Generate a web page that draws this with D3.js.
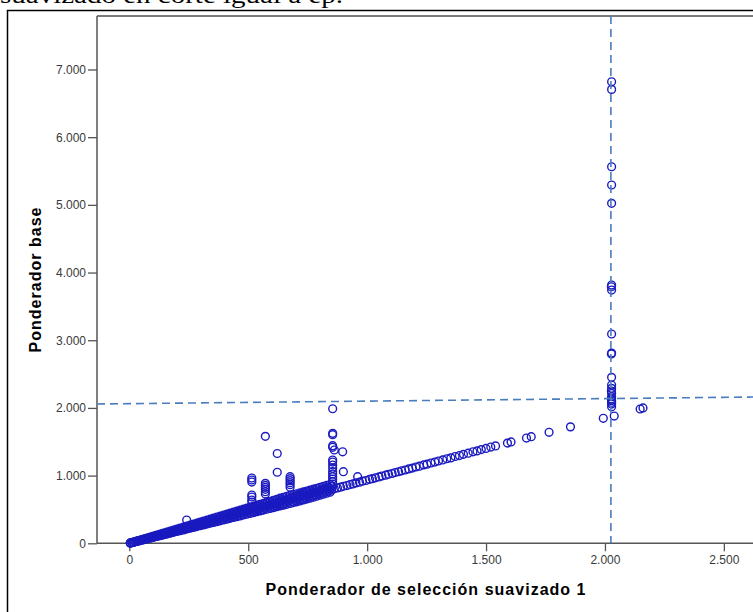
<!DOCTYPE html>
<html>
<head>
<meta charset="utf-8">
<script src="https://cdn.jsdelivr.net/npm/d3@7"></script>
<style>
  body { margin: 0; background: #fff; }
  svg { display: block; }
</style>
</head>
<body>
<svg id="chart" width="753" height="612"></svg>
<script>
// Smoothed selection weight (x) versus base weight (y).

// Dense bulk of cases: each smoothed value with a low, middle and high base weight
const bandSmoothed = [4, 18, 32, 46, 60, 74, 88, 102, 116, 130, 144, 158, 172, 186, 200, 214, 228, 242, 256, 270,
  284, 298, 312, 326, 340, 354, 368, 382, 396, 410, 424, 438, 452, 466, 480, 494, 508, 522, 536, 550,
  564, 578, 592, 606, 620, 634, 648, 662, 676, 690, 704, 718, 732, 746, 760, 774, 788, 802, 816, 830, 844];
const bandBaseLow = [3, 15, 28, 40, 52, 64, 76, 88, 101, 113, 125, 137, 150, 162, 174, 186, 198, 211, 223, 235,
  247, 259, 272, 284, 296, 308, 320, 332, 345, 357, 369, 381, 393, 405, 418, 430, 442, 454, 466, 479,
  491, 503, 515, 527, 540, 552, 564, 576, 589, 601, 613, 626, 640, 653, 667, 681, 696, 710, 725, 740, 755];
const bandBaseMid = [4, 17, 31, 44, 58, 71, 85, 98, 111, 125, 138, 152, 165, 179, 192, 205, 219, 232, 246, 259,
  273, 286, 300, 313, 326, 340, 353, 367, 380, 394, 407, 420, 434, 447, 461, 474, 488, 501, 515, 528,
  541, 555, 568, 582, 595, 609, 622, 636, 649, 662, 676, 689, 703, 716, 730, 743, 756, 770, 783, 797, 810];
const bandBaseHigh = [5, 19, 34, 48, 63, 78, 92, 107, 122, 137, 151, 166, 181, 195, 210, 225, 239, 254, 269, 284,
  298, 313, 328, 342, 357, 372, 386, 401, 416, 430, 445, 460, 475, 489, 504, 519, 533, 548, 563, 577,
  592, 607, 621, 636, 651, 666, 680, 695, 710, 720, 732, 745, 759, 772, 786, 800, 813, 827, 841, 855, 869];

// Second set of bulk cases, between the rows above
const bandSmoothedB = [11, 25, 39, 53, 67, 81, 95, 109, 123, 137, 151, 165, 179, 193, 207, 221, 235, 249, 263, 277,
  291, 305, 319, 333, 347, 361, 375, 389, 403, 417, 431, 445, 459, 473, 487, 501, 515, 529, 543, 557,
  571, 585, 599, 613, 627, 641, 655, 669, 683, 697, 711, 725, 739, 753, 767, 781, 795, 809, 823, 837, 851];
const bandBaseLowMid = [10, 23, 35, 48, 61, 73, 86, 99, 111, 124, 137, 149, 162, 175, 187, 200, 213, 225, 238, 251,
  263, 276, 289, 301, 314, 327, 339, 352, 365, 377, 390, 403, 415, 428, 441, 453, 466, 479, 491, 504,
  517, 529, 542, 555, 567, 580, 593, 605, 618, 631, 645, 659, 673, 687, 701, 715, 730, 744, 758, 773, 787];
const bandBaseMidHigh = [11, 25, 39, 53, 67, 81, 96, 110, 124, 138, 152, 166, 180, 194, 208, 222, 236, 250, 264, 278,
  292, 307, 321, 335, 349, 363, 377, 391, 405, 419, 433, 447, 461, 475, 489, 503, 518, 532, 546, 560,
  574, 588, 602, 616, 630, 644, 658, 672, 686, 700, 712, 724, 737, 750, 764, 777, 791, 804, 818, 832, 845];

// Thinner tail of the bulk
const tailSmoothed = [862, 875, 888, 900, 915, 928, 940, 953, 968, 980, 995, 1010, 1022, 1035, 1050, 1062, 1078, 1090,
  1105, 1118, 1132, 1145, 1160, 1175, 1190, 1205, 1220, 1238, 1252, 1268, 1285, 1300, 1318, 1335, 1352, 1370,
  1388, 1405, 1425, 1445, 1462, 1480, 1500, 1520, 1540, 1590, 1605, 1670, 1690, 1765, 1855, 1993, 2148, 2160];
const tailBase = [806, 818, 829, 843, 853, 868, 877, 892, 903, 918, 928, 945, 954, 968, 980, 994, 1006, 1020,
  1031, 1046, 1057, 1071, 1083, 1099, 1111, 1127, 1139, 1158, 1169, 1186, 1200, 1216, 1231, 1249, 1262, 1282,
  1296, 1314, 1331, 1352, 1365, 1384, 1401, 1422, 1438, 1480, 1497, 1555, 1575, 1640, 1720, 1847, 1984, 2000];

// Cases whose base weight sits well above the bulk
const highSmoothed = [241, 515, 515, 515, 515, 515, 515, 515, 572, 572, 572, 572, 572, 572, 572, 622, 622,
  676, 676, 676, 676, 676, 676, 855, 855, 855, 855, 855, 855, 855, 855, 855, 855, 855, 855, 855, 855, 855,
  862, 897, 900, 960];
const highBase = [344, 965, 935, 905, 713, 684, 640, 610, 1580, 886, 855, 825, 798, 762, 728, 1327, 1050,
  984, 955, 925, 895, 866, 827, 1988, 1625, 1605, 1442, 1418, 1230, 1200, 1157, 1108, 1058, 1024, 984, 950, 910,
  876, 1378, 1352, 1058, 984];

// Cases trimmed at the cut point
const cutSmoothed = [2028, 2028, 2028, 2028, 2028, 2028, 2027, 2028, 2028, 2028, 2027, 2028, 2028, 2028, 2027,
  2028, 2028, 2027, 2028, 2028, 2028, 2028, 2039];
const cutBase = [6818, 6706, 5563, 5293, 5022, 3815, 3790, 3741, 3092, 2810, 2797, 2452, 2338, 2289, 2250,
  2215, 2166, 2130, 2106, 2080, 2057, 2018, 1880];

// Reference lines
const cutPoint = 2025;
const refLineSmoothed = [-136, 2652];
const refLineBase = [2058, 2162];

// Axes
const xTicks = [0, 500, 1000, 1500, 2000, 2500];
const xTickLabels = ["0", "500", "1.000", "1.500", "2.000", "2.500"];
const yTicks = [0, 1000, 2000, 3000, 4000, 5000, 6000, 7000];
const yTickLabels = ["0", "1.000", "2.000", "3.000", "4.000", "5.000", "6.000", "7.000"];
const xTitle = "Ponderador de selección suavizado 1";
const yTitle = "Ponderador base";
const pageText = "suavizado en corte igual a ep.";

const svg = d3.select("#chart");
const W = 753, H = 612;
const plot = { left: 97, right: 760, top: 16, bottom: 543.3 };

svg.append("rect").attr("width", W).attr("height", H).attr("fill", "#fff");

// Line of body text above the figure
svg.append("text")
  .attr("x", 0).attr("y", 3)
  .attr("font-family", "'Liberation Serif', 'Times New Roman', serif")
  .attr("font-size", 24)
  .attr("textLength", 343).attr("lengthAdjust", "spacingAndGlyphs")
  .attr("fill", "#000")
  .text(pageText);

// Outer figure frame
svg.append("rect")
  .attr("x", 7.5).attr("y", 10.5).attr("width", 760).attr("height", 700)
  .attr("fill", "#fff").attr("stroke", "#000").attr("stroke-width", 1.5);

const x = d3.scaleLinear().domain([-136, 2652]).range([plot.left, plot.right]);
const y = d3.scaleLinear().domain([0, 7790]).range([plot.bottom, plot.top]);

// Plot frame
svg.append("line")
  .attr("x1", plot.left).attr("x2", plot.right).attr("y1", plot.top).attr("y2", plot.top)
  .attr("stroke", "#7a7a7a").attr("stroke-width", 2);

const fontSans = "'Liberation Sans', Arial, sans-serif";

const xAxis = d3.axisBottom(x).tickValues(xTicks)
  .tickFormat((d, i) => xTickLabels[i]).tickSize(8).tickSizeOuter(0).tickPadding(4);
const yAxis = d3.axisLeft(y).tickValues(yTicks)
  .tickFormat((d, i) => yTickLabels[i]).tickSize(9).tickSizeOuter(0).tickPadding(2);

const gx = svg.append("g").attr("transform", `translate(0,${plot.bottom})`).call(xAxis);
const gy = svg.append("g").attr("transform", `translate(${plot.left},0)`).call(yAxis);
[gx, gy].forEach(g => {
  g.select(".domain").remove();
  g.selectAll(".tick line").attr("stroke", "#555").attr("stroke-width", 1.3);
  g.selectAll(".tick text").attr("fill", "#3a3a3a").attr("font-family", fontSans).attr("font-size", 12);
});

// Axis lines
svg.append("line")
  .attr("x1", plot.left).attr("x2", plot.left).attr("y1", plot.top).attr("y2", plot.bottom)
  .attr("stroke", "#555").attr("stroke-width", 1.5);
svg.append("line")
  .attr("x1", plot.left).attr("x2", plot.right).attr("y1", plot.bottom).attr("y2", plot.bottom)
  .attr("stroke", "#555").attr("stroke-width", 1.5);

// Points
const pts = [];
bandSmoothed.forEach((s, i) => {
  pts.push([s, bandBaseLow[i]], [s, bandBaseMid[i]], [s, bandBaseHigh[i]]);
});
bandSmoothedB.forEach((s, i) => {
  pts.push([s, bandBaseLowMid[i]], [s, bandBaseMidHigh[i]]);
});
tailSmoothed.forEach((s, i) => pts.push([s, tailBase[i]]));
highSmoothed.forEach((s, i) => pts.push([s, highBase[i]]));
cutSmoothed.forEach((s, i) => pts.push([s, cutBase[i]]));

svg.append("g").selectAll("circle").data(pts).join("circle")
  .attr("cx", d => x(d[0])).attr("cy", d => y(d[1]))
  .attr("r", 3.9)
  .attr("fill", "none")
  .attr("stroke", "#1a1ac0")
  .attr("stroke-width", 1.4);

// Dashed reference lines
const dashColor = "#4a7dbd";
svg.append("line")
  .attr("x1", x(cutPoint)).attr("x2", x(cutPoint))
  .attr("y1", plot.top).attr("y2", plot.bottom)
  .attr("stroke", dashColor).attr("stroke-width", 1.6).attr("stroke-dasharray", "8,5");
svg.append("line")
  .attr("x1", x(refLineSmoothed[0])).attr("y1", y(refLineBase[0]))
  .attr("x2", x(refLineSmoothed[1])).attr("y2", y(refLineBase[1]))
  .attr("stroke", dashColor).attr("stroke-width", 1.6).attr("stroke-dasharray", "8,5");

// Axis titles
svg.append("text")
  .attr("x", 425.5).attr("y", 595)
  .attr("text-anchor", "middle")
  .attr("font-family", fontSans).attr("font-weight", "bold").attr("font-size", 16)
  .attr("textLength", 320).attr("lengthAdjust", "spacing")
  .attr("fill", "#000")
  .text(xTitle);

svg.append("text")
  .attr("transform", "translate(41,280) rotate(-90)")
  .attr("text-anchor", "middle")
  .attr("font-family", fontSans).attr("font-weight", "bold").attr("font-size", 16)
  .attr("textLength", 145).attr("lengthAdjust", "spacing")
  .attr("fill", "#000")
  .text(yTitle);
</script>
</body>
</html>
